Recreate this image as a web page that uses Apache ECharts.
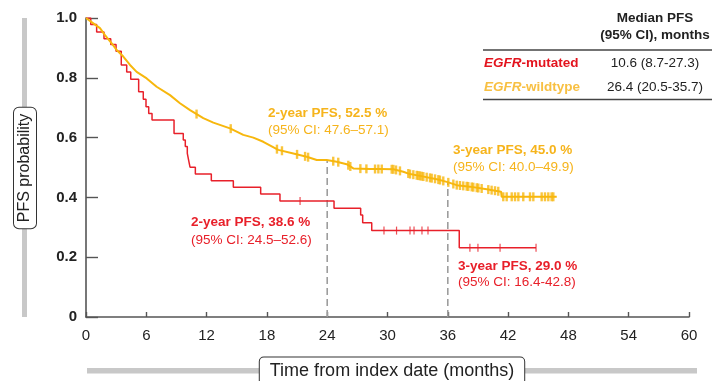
<!DOCTYPE html>
<html>
<head>
<meta charset="utf-8">
<script src="https://cdn.jsdelivr.net/npm/echarts@6/dist/echarts.min.js"></script>
<style>html,body{margin:0;padding:0;background:#fff}#c{width:714px;height:381px}</style>
</head>
<body>
<div id="c"></div>
<script>
// ---- data ----
var xTicks = [0, 6, 12, 18, 24, 30, 36, 42, 48, 54, 60];
var yTicks = [0, 0.2, 0.4, 0.6, 0.8, 1.0];

// EGFR-mutated Kaplan-Meier curve (months, PFS probability)
var redTimes = [0, 0.47, 1.06, 1.79, 2.46, 2.99, 3.51, 4.05, 4.45, 5.24, 5.70, 5.97, 6.24, 6.57, 8.76, 9.68, 9.88, 10.08, 10.22, 10.35, 10.88, 12.47, 14.66, 17.38, 19.30, 24.68, 27.33, 27.53, 28.43, 37.14, 44.78];
var redSurv  = [1.0, 0.978, 0.953, 0.931, 0.911, 0.889, 0.843, 0.819, 0.795, 0.753, 0.728, 0.703, 0.681, 0.659, 0.614, 0.592, 0.570, 0.547, 0.523, 0.501, 0.478, 0.456, 0.434, 0.411, 0.388, 0.364, 0.341, 0.315, 0.289, 0.232, 0.232];
var redCensor = [21.3, 29.65, 30.9, 32.24, 32.64, 33.43, 34.03, 38.2, 39.0, 41.2, 44.78];

// EGFR-wildtype Kaplan-Meier curve
var yelTimes = [0, 0.73, 1.39, 1.89, 2.56, 3.05, 3.71, 4.38, 5.04, 6.04, 7.03, 8.36, 9.35, 10.35, 11.67, 12.67, 14.33, 15.65, 16.65, 17.64, 19.13, 20.63, 21.96, 22.96, 23.95, 24.95, 25.94, 26.6, 28.26, 29.25, 30.58, 31.57, 32.24, 33.23, 34.9, 35.9, 36.89, 38.2, 39.87, 41.3, 41.36, 46.84];
var yelSurv  = [1.0, 0.982, 0.966, 0.943, 0.915, 0.893, 0.871, 0.843, 0.820, 0.798, 0.770, 0.742, 0.715, 0.692, 0.665, 0.650, 0.631, 0.609, 0.600, 0.586, 0.559, 0.547, 0.536, 0.525, 0.525, 0.519, 0.511, 0.497, 0.495, 0.495, 0.494, 0.486, 0.478, 0.472, 0.461, 0.452, 0.441, 0.436, 0.427, 0.419, 0.402, 0.402];
var yelCensor = [11.0, 14.4, 19.0, 19.5, 21.0, 21.8, 22.1, 24.6, 25.1, 26.1, 26.3, 27.3, 27.9, 28.76, 29.09, 29.43, 30.42, 30.59, 30.85, 31.24, 32.07, 32.24, 32.57, 32.91, 33.07, 33.23, 33.40, 33.57, 33.90, 34.23, 34.40, 34.73, 35.06, 35.22, 35.55, 36.05, 36.55, 36.89, 37.21, 37.54, 37.88, 38.04, 38.38, 38.54, 38.88, 39.04, 39.37, 40.03, 40.36, 40.70, 41.02, 41.52, 41.86, 42.36, 42.69, 43.02, 43.51, 44.18, 44.51, 45.34, 45.67, 46.0, 46.33, 46.5];

// milestone reference lines (month, height reached on the wildtype curve)
var milestoneMonths = [24, 36];
var milestoneTop = [0.525, 0.45];

// texts
var tableHeader = ['Median PFS', '(95% CI), months'];
var groupNames = ['EGFR-mutated', 'EGFR-wildtype'];
var groupMedians = ['10.6 (8.7-27.3)', '26.4 (20.5-35.7)'];
var annotations = {
  yel2: ['2-year PFS, 52.5 %', '(95% CI: 47.6\u201357.1)'],
  yel3: ['3-year PFS, 45.0 %', '(95% CI: 40.0\u201349.9)'],
  red2: ['2-year PFS, 38.6 %', '(95% CI: 24.5\u201352.6)'],
  red3: ['3-year PFS, 29.0 %', '(95% CI: 16.4-42.8)']
};

// ---- helpers ----
var RED = '#e8202a', YEL = '#f7b70d', YEL_T = '#f6b41c';
var FONT = '"Liberation Sans", Arial, Helvetica, sans-serif';
function pairs(t, s) { return t.map(function (v, i) { return [v, s[i]]; }); }
function stepAt(t, s, x) { var v = s[0]; for (var i = 0; i < t.length; i++) { if (t[i] <= x) v = s[i]; } return v; }
function linAt(t, s, x) {
  for (var i = 1; i < t.length; i++) {
    if (x <= t[i]) { var f = (x - t[i - 1]) / (t[i] - t[i - 1] || 1); return s[i - 1] + f * (s[i] - s[i - 1]); }
  }
  return s[s.length - 1];
}

var chart = echarts.init(document.getElementById('c'), null, { renderer: 'canvas' });

var series = [];
milestoneMonths.forEach(function (m, i) {
  series.push({
    type: 'line', data: [[m, 0], [m, milestoneTop[i]]], symbol: 'none', silent: true, z: 1,
    lineStyle: { color: '#9d9d9d', width: 1.6, type: [7, 4] }
  });
});
series.push({
  name: 'EGFR-mutated', type: 'line', step: 'end', data: pairs(redTimes, redSurv), symbol: 'none', z: 3,
  lineStyle: { color: RED, width: 1.5 }
});
series.push({
  name: 'EGFR-wildtype', type: 'line', data: pairs(yelTimes, yelSurv), symbol: 'none', z: 4,
  lineStyle: { color: YEL, width: 2 }
});
series.push({
  type: 'scatter', data: redCensor.map(function (t) { return [t, stepAt(redTimes, redSurv, t)]; }),
  symbol: 'rect', symbolSize: [1.2, 8], itemStyle: { color: RED }, z: 5, silent: true
});
series.push({
  type: 'scatter', data: yelCensor.map(function (t) { return [t, linAt(yelTimes, yelSurv, t)]; }),
  symbol: 'rect', symbolSize: [2.4, 9], itemStyle: { color: YEL }, z: 6, silent: true
});

function txt(x, y, s, o) {
  o = o || {};
  return {
    type: 'text', x: x, y: y, z: 100,
    style: Object.assign({ text: s, align: 'left', verticalAlign: 'middle', fontFamily: FONT, fontSize: 13.5, fill: '#222' }, o)
  };
}

var graphic = [
  { type: 'rect', shape: { x: 22, y: 18, width: 5, height: 299 }, style: { fill: '#c8c8c8' }, z: 1 },
  { type: 'rect', shape: { x: 87, y: 368, width: 610, height: 5.5 }, style: { fill: '#c8c8c8' }, z: 1 },
  {
    type: 'text', x: 25, y: 168, rotation: Math.PI / 2, z: 50,
    style: { text: 'PFS probability', align: 'center', verticalAlign: 'middle', fontFamily: FONT, fontSize: 16, fill: '#222',
      backgroundColor: '#fff', borderColor: '#333', borderWidth: 1, borderRadius: 5, padding: [3, 6, 3, 6] }
  },
  {
    type: 'text', x: 392, y: 371, z: 50,
    style: { text: 'Time from index date (months)', align: 'center', verticalAlign: 'middle', fontFamily: FONT, fontSize: 18, fill: '#222',
      backgroundColor: '#fff', borderColor: '#333', borderWidth: 1, borderRadius: 4, padding: [3, 10, 6, 10] }
  },
  // table
  txt(655, 18.5, tableHeader[0], { align: 'center', fontWeight: 'bold' }),
  txt(655, 35, tableHeader[1], { align: 'center', fontWeight: 'bold' }),
  { type: 'line', shape: { x1: 483, y1: 50, x2: 712, y2: 50 }, style: { stroke: '#444', lineWidth: 1.5 }, z: 100 },
  txt(484, 63.5, '{i|' + groupNames[0].split('-')[0] + '}{b|-' + groupNames[0].split('-')[1] + '}', {
    rich: { i: { fontStyle: 'italic', fontWeight: 'bold', fill: '#e3141e', fontSize: 13.5, fontFamily: FONT },
            b: { fontWeight: 'bold', fill: '#e3141e', fontSize: 13.5, fontFamily: FONT } } }),
  txt(655, 63.5, groupMedians[0], { align: 'center' }),
  txt(484, 87, '{i|' + groupNames[1].split('-')[0] + '}{b|-' + groupNames[1].split('-')[1] + '}', {
    rich: { i: { fontStyle: 'italic', fontWeight: 'bold', fill: '#f8c043', fontSize: 13.5, fontFamily: FONT },
            b: { fontWeight: 'bold', fill: '#f8c043', fontSize: 13.5, fontFamily: FONT } } }),
  txt(655, 87, groupMedians[1], { align: 'center' }),
  { type: 'line', shape: { x1: 483, y1: 99.5, x2: 712, y2: 99.5 }, style: { stroke: '#444', lineWidth: 1.5 }, z: 100 },
  // annotations
  txt(268, 113.5, annotations.yel2[0], { fontWeight: 'bold', fill: YEL_T }),
  txt(268, 130.5, annotations.yel2[1], { fill: YEL_T }),
  txt(453, 150, annotations.yel3[0], { fontWeight: 'bold', fill: YEL_T }),
  txt(453, 167, annotations.yel3[1], { fill: YEL_T }),
  txt(191, 222.5, annotations.red2[0], { fontWeight: 'bold', fill: RED }),
  txt(191, 240.5, annotations.red2[1], { fill: RED }),
  txt(458, 266, annotations.red3[0], { fontWeight: 'bold', fill: RED }),
  txt(458, 282, annotations.red3[1], { fill: RED })
];

chart.setOption({
  animation: false,
  grid: { left: 86, right: 25, top: 18, bottom: 64, containLabel: false },
  xAxis: {
    type: 'value', min: xTicks[0], max: xTicks[xTicks.length - 1], interval: xTicks[1] - xTicks[0],
    axisLine: { show: true, lineStyle: { color: '#555', width: 1.6 } },
    axisTick: { show: true, inside: true, length: 5, lineStyle: { color: '#555', width: 1.4 } },
    splitLine: { show: false },
    axisLabel: { margin: 11, fontFamily: FONT, fontSize: 15, color: '#222' }
  },
  yAxis: {
    type: 'value', min: yTicks[0], max: yTicks[yTicks.length - 1], interval: yTicks[1] - yTicks[0],
    axisLine: { show: true, lineStyle: { color: '#555', width: 1.6 } },
    axisTick: { show: true, inside: true, length: 12, lineStyle: { color: '#555', width: 1.4 } },
    splitLine: { show: false },
    axisLabel: { margin: 9, fontFamily: FONT, fontSize: 15, fontWeight: 'bold', color: '#222',
      formatter: function (v) { return v === 0 ? '0' : v.toFixed(1); } }
  },
  series: series,
  graphic: graphic
});
</script>
</body>
</html>
